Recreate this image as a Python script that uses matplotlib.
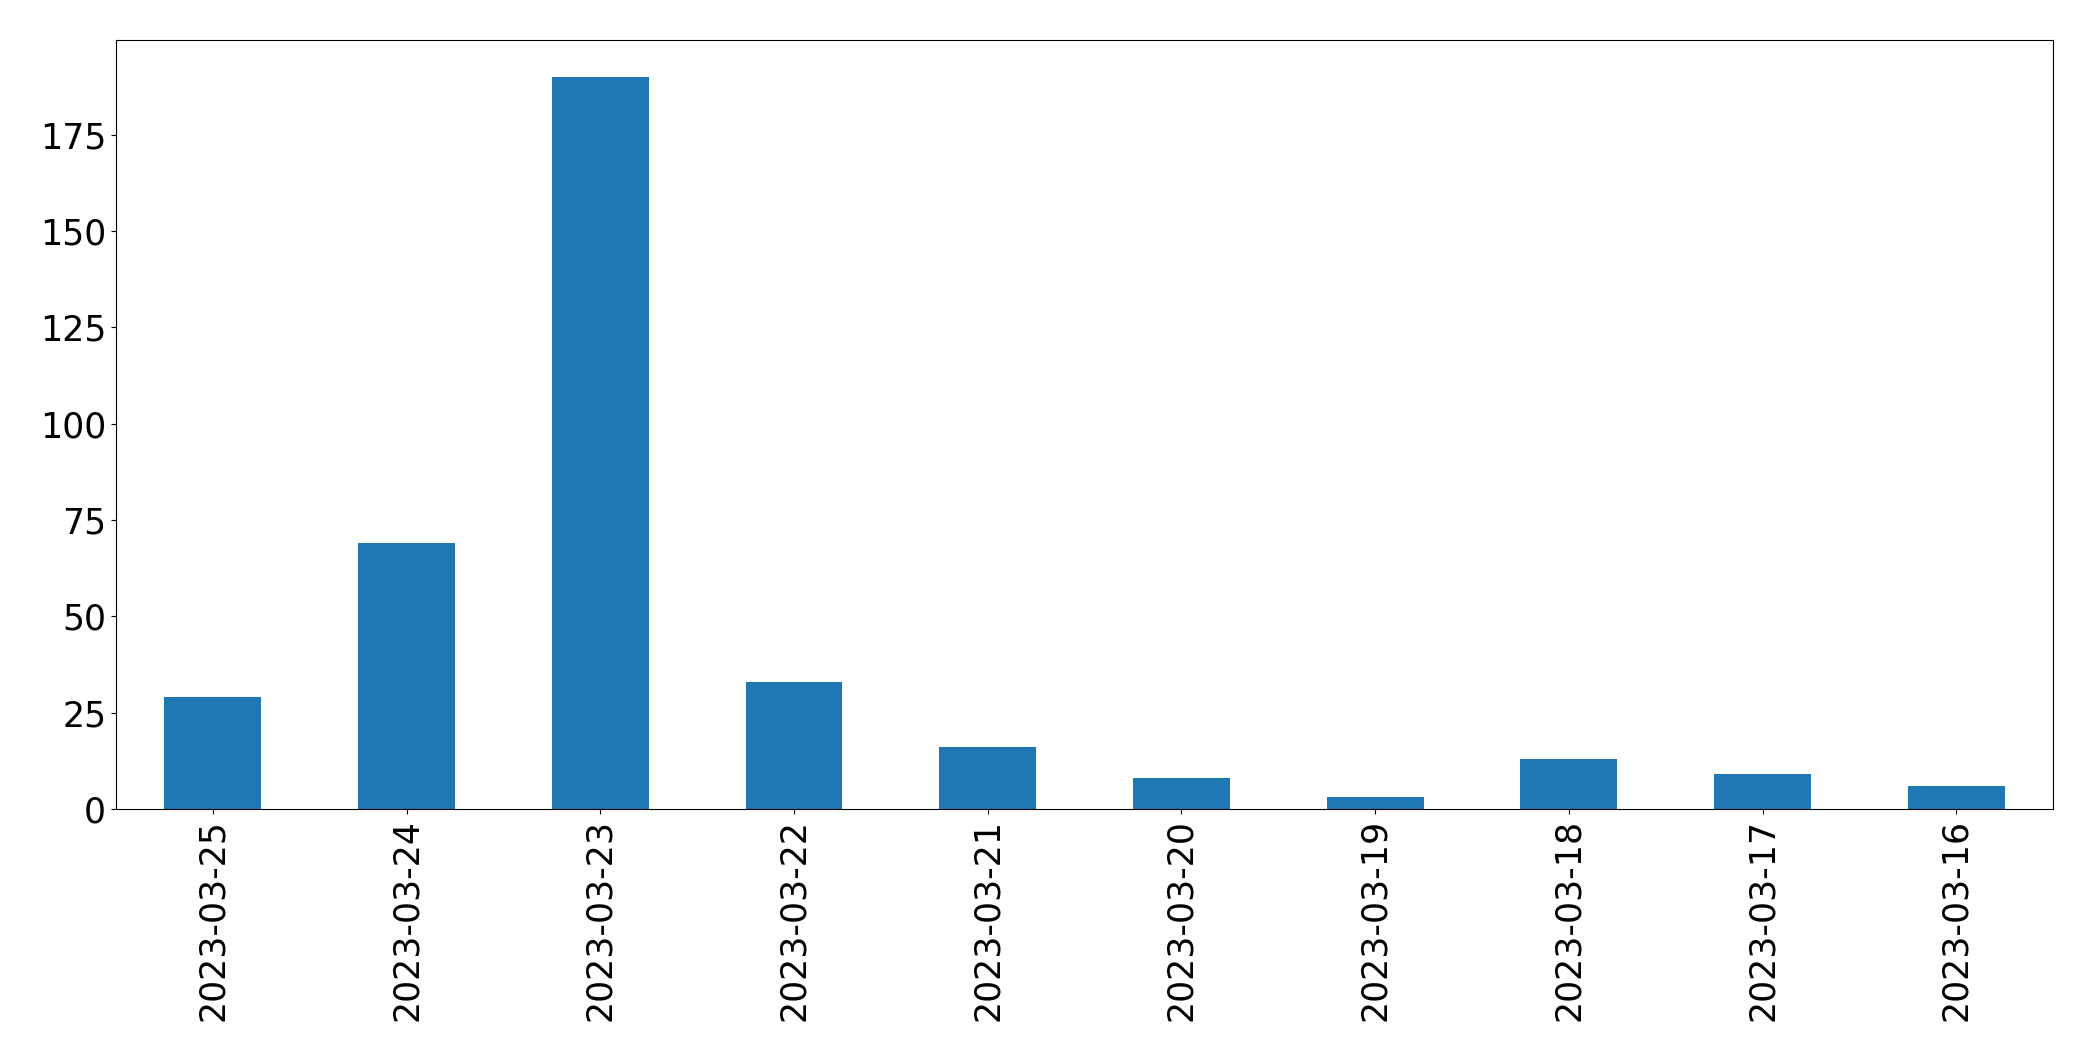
import matplotlib
matplotlib.use("Agg")
import matplotlib.pyplot as plt
import numpy as np

dates = ['2023-03-25', '2023-03-24', '2023-03-23', '2023-03-22', '2023-03-21',
         '2023-03-20', '2023-03-19', '2023-03-18', '2023-03-17', '2023-03-16']
counts = [29, 69, 190, 33, 16, 8, 3, 13, 9, 6]

fig = plt.figure(figsize=(20.93, 10.61), dpi=100)
ax = fig.add_axes([0.0554, 0.2375, 0.9256, 0.7245])

x = np.arange(len(dates))
ax.bar(x, counts, width=0.5, color='#1f77b4')
ax.set_xlim(-0.5, len(dates) - 0.5)
ax.set_xticks(x)
ax.set_xticklabels(dates, rotation=90)
ax.tick_params(axis='both', labelsize=25)

fig.savefig('out.png', dpi=100)
